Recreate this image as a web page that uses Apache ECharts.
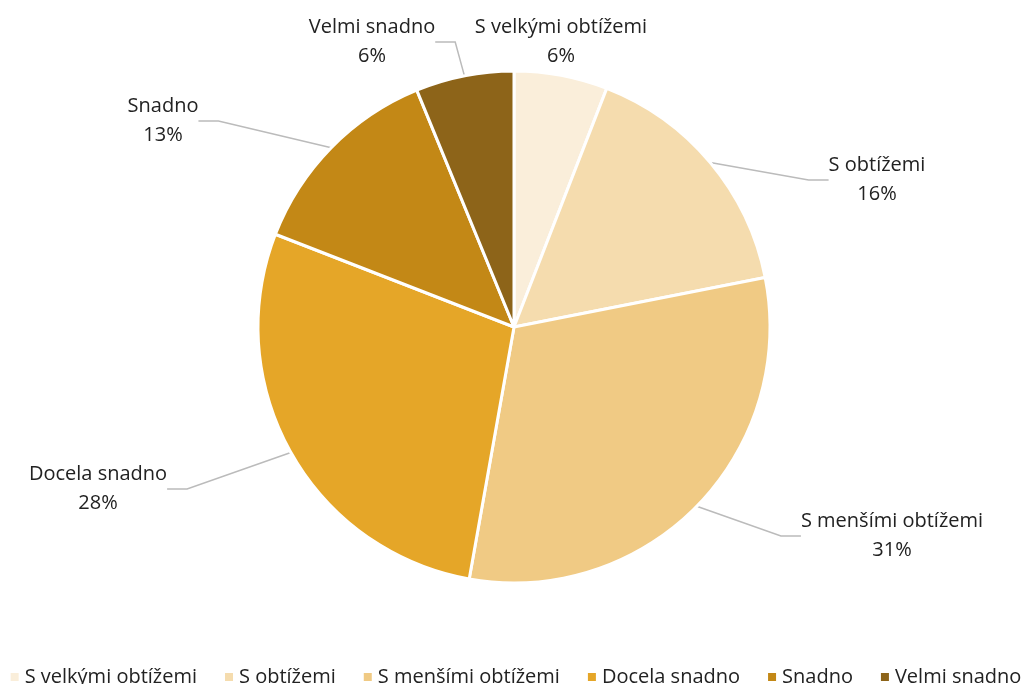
<!DOCTYPE html>
<html><head><meta charset="utf-8">
<script src="https://cdn.jsdelivr.net/npm/echarts@6/dist/echarts.min.js"></script>
<style>html,body{margin:0;padding:0;background:#fff}#c{width:1030px;height:684px}</style>
</head><body><div id="c"></div>
<script>
const categories = ["S velkými obtížemi","S obtížemi","S menšími obtížemi","Docela snadno","Snadno","Velmi snadno"];
const values = [5.9, 16.0, 30.9, 28.1, 12.9, 6.2];
const colors = ["#FAEEDA","#F5DCAE","#F0CA84","#E5A628","#C38816","#8D6419"];
// label block centres, as offsets from the pie centre (Excel "best fit" placement)
const labelOffsets = [[47,-285],[363,-147],[378,209],[-416,162],[-351,-206],[-142,-285]];
const CX = 514, CY = 327;
const chart = echarts.init(document.getElementById('c'));
const font = "'Open Sans', sans-serif";
chart.setOption({
  animation:false,
  color: colors,
  legend:{bottom:-8,left:'center',itemWidth:10,itemHeight:10,itemGap:26,icon:'rect',
    textStyle:{fontFamily:font,fontSize:20,color:'#222'},data:categories},
  series:[{type:'pie',center:[CX,CY],radius:256,startAngle:90,clockwise:true,
    itemStyle:{borderColor:'#fff',borderWidth:3},
    label:{fontFamily:font,fontSize:20,color:'#222',lineHeight:29,align:'center',
      formatter:p=>p.name+"\n"+Math.round(p.percent)+"%"},
    labelLine:{length:20,length2:20,lineStyle:{color:'#bbb',width:1.5}},
    labelLayout:p=>({x:CX+labelOffsets[p.dataIndex][0],y:CY+labelOffsets[p.dataIndex][1],align:'center',verticalAlign:'middle'}),
    data:categories.map((n,i)=>({name:n,value:values[i],labelLine:{show:i!==0}}))}]
});
</script></body></html>
